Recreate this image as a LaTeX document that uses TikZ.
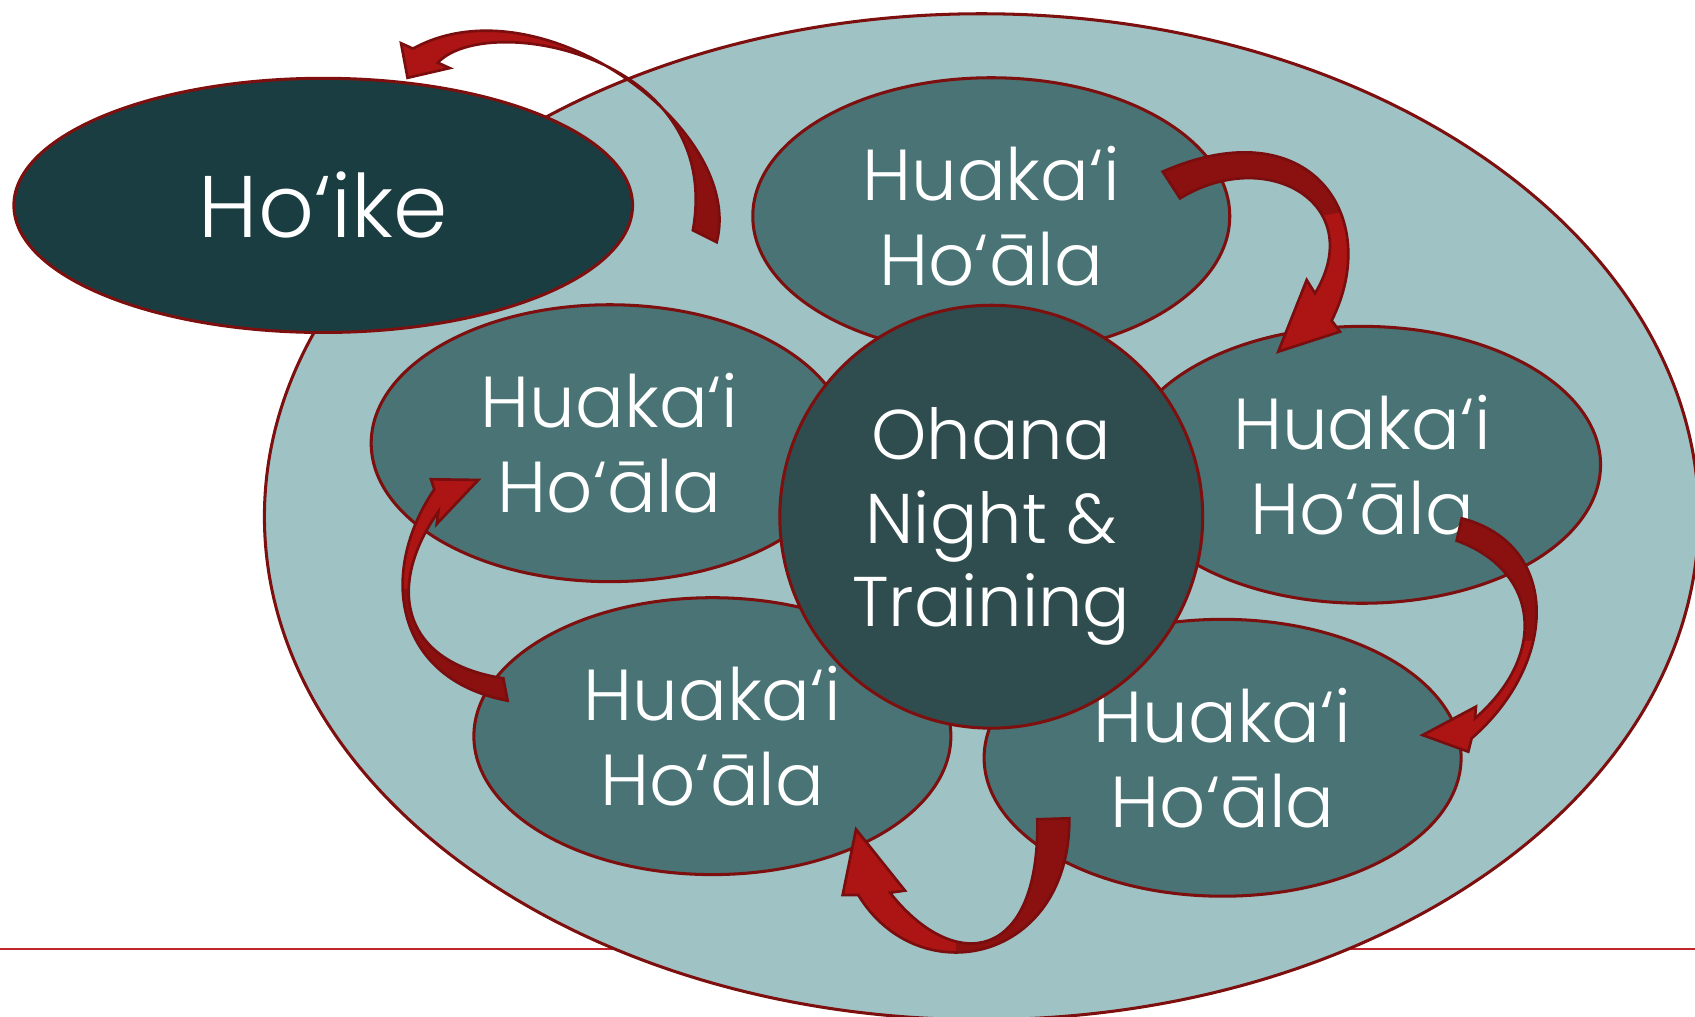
\documentclass[tikz,border=0pt]{standalone}
\usepackage{fontspec}
\setmainfont{Poppins}[UprightFont=* Light]
\usetikzlibrary{shapes.geometric}
\definecolor{outerfill}{HTML}{9FC3C5}
\definecolor{rim}{HTML}{7E0F0F}
\definecolor{hoikefill}{HTML}{1A3D42}
\definecolor{huakafill}{HTML}{497374}
\definecolor{corefill}{HTML}{2F4D4E}
\definecolor{arrdark}{HTML}{8B1010}
\definecolor{arrbright}{HTML}{AD1515}
\definecolor{arrline}{HTML}{7A0D0D}
\definecolor{rulecol}{HTML}{C0272D}
\begin{document}
\begin{tikzpicture}[x=0.01cm, y=-0.01cm,
  bubble/.style={ellipse, draw=rim, line width=0.8pt, fill=huakafill, text=white, inner sep=0pt,
    minimum width=4.41cm, minimum height=2.56cm, align=center,
    font=\fontsize{19}{22.4}\selectfont},
  ribbon/.style={fill=arrdark, draw=arrline, line width=0.7pt, line join=miter}
]
\useasboundingbox (0,0) rectangle (1568,940);
% base rule
\coordinate (rl) at (0,878);
\coordinate (rr) at (1568,878);
\draw[rulecol, line width=0.7pt] (rl) -- (rr);
% outer ellipse
\node[ellipse, draw=rim, line width=0.8pt, fill=outerfill, inner sep=0pt,
  minimum width=13.26cm, minimum height=9.3cm] (outer) at (908,478) {};
% Ho'ike
\node[ellipse, draw=rim, line width=0.8pt, fill=hoikefill, text=white, inner sep=0pt,
  minimum width=5.72cm, minimum height=2.35cm, font=\fontsize{23}{26}\selectfont] (hoike) at (299,190) {Ho‘ike};
% Huaka'i bubbles
\node[bubble] (top) at (917,200) {Huaka‘i\\Ho‘āla};
\node[bubble] (left) at (564,410) {Huaka‘i\\Ho‘āla};
\node[bubble] (right) at (1260,430) {Huaka‘i\\Ho‘āla};
\node[bubble] (botl) at (659,681) {Huaka‘i\\Ho‘āla};
\node[bubble] (botr) at (1131,701) {Huaka‘i\\Ho‘āla};
% core
\node[circle, draw=rim, line width=0.8pt, fill=corefill, inner sep=0pt,
  minimum size=3.91cm] (core) at (917,478) {};
\node[text=white, align=center, inner sep=0pt, font=\fontsize{18.5}{22}\selectfont]
  (coretext) at (917,487) {Ohana\\Night \&\\Training};
% arrow end points
\coordinate (a1tail) at (663,224); \coordinate (a1tip) at (377,72);
\coordinate (a2tail) at (1075.6,158.8); \coordinate (a2tip) at (1182.5,325.3);
\coordinate (a3tail) at (1352.2,479.5); \coordinate (a3tip) at (1316.1,680);
\coordinate (a4tail) at (989.2,757); \coordinate (a4tip) at (791.9,767.2);
\coordinate (a5tail) at (469.6,648.2); \coordinate (a5tip) at (442.5,444);
% arrow 1: to Ho'ike
\draw[ribbon, path picture={\fill[arrbright] (300,-10) rectangle (540,120);}]
  (a1tail) .. controls (690,120) and (500,-20) .. (382,45) -- (371,40) -- (a1tip)
  -- (416,63) -- (405,58) .. controls (450,10) and (670,50) .. (641,213) -- cycle;
% arrow 2: top -> right
\draw[ribbon, path picture={\fill[arrbright] (1195,205) -- (1300,185) -- (1300,340) -- (1150,340) -- cycle;}]
  (a2tail) .. controls (1212,99) and (1280,200.6) .. (1231.9,296.6) -- (1239.6,306.8) -- (a2tip)
  -- (1208.8,259) -- (1216.5,271.4) .. controls (1266,189) and (1172.6,134) .. (1091.6,183.5) -- cycle;
% arrow 3: right -> bottom right
\draw[ribbon, path picture={\fill[arrbright] (1300,600) -- (1460,590) -- (1460,720) -- (1300,720) -- cycle;}]
  (a3tail) .. controls (1444.2,503.5) and (1441.9,613) .. (1361.4,683) -- (1358.3,695.4) -- (a3tip)
  -- (1365.4,653.7) -- (1364.5,664.5) .. controls (1433.5,604.5) and (1422.5,527.2) .. (1347.5,500.2) -- cycle;
% arrow 4: bottom right -> bottom left
\draw[ribbon, path picture={\fill[arrbright] (760,740) rectangle (884,900);}]
  (a4tail) .. controls (990,890) and (850,920) .. (794,828) -- (779.5,828) -- (a4tip)
  -- (837.2,823.9) -- (823.3,825.8) .. controls (883.3,901.8) and (962,890) .. (959.6,757.9) -- cycle;
% arrow 5: bottom left -> left
\draw[ribbon, path picture={\fill[arrbright] (340,420) rectangle (480,545);}]
  (a5tail) .. controls (364.6,628.2) and (349.3,529.7) .. (401.8,452.7) -- (398.7,443.4) -- (a5tip)
  -- (404,484.7) -- (405.5,473.3) .. controls (357.5,541.3) and (369.6,612.5) .. (465.6,627.5) -- cycle;
\end{tikzpicture}
\end{document}
